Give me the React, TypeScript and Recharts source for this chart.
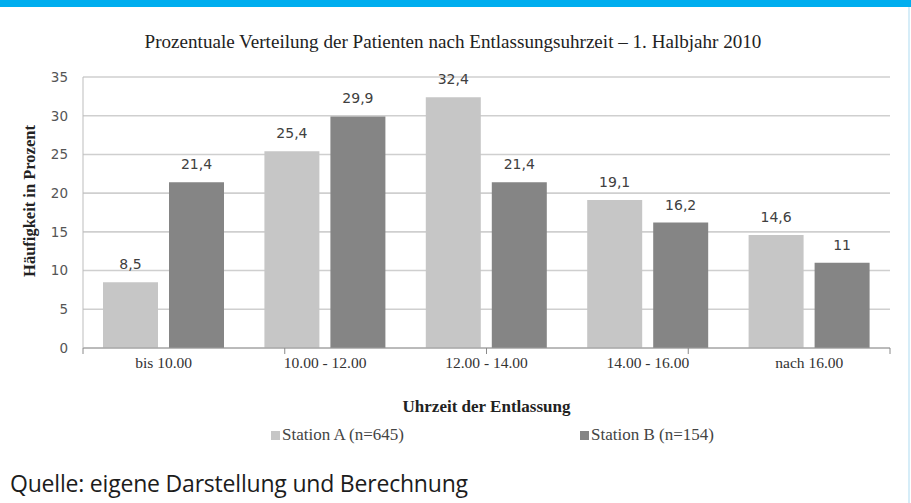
import React from 'react';
import { BarChart, Bar, XAxis, YAxis, CartesianGrid, Legend, LabelList } from 'recharts';

const categories = ['bis 10.00', '10.00 - 12.00', '12.00 - 14.00', '14.00 - 16.00', 'nach 16.00'];
const stationA = [8.5, 25.4, 32.4, 19.1, 14.6];
const stationB = [21.4, 29.9, 21.4, 16.2, 11];
const seriesNames = ['Station A (n=645)', 'Station B (n=154)'];
const yTicks = [0, 5, 10, 15, 20, 25, 30, 35];
const boundaryTicks = [0, 1, 2, 3, 4, 5];

const title = 'Prozentuale Verteilung der Patienten nach Entlassungsuhrzeit – 1. Halbjahr 2010';
const yTitle = 'Häufigkeit in Prozent';
const xTitle = 'Uhrzeit der Entlassung';
const source = 'Quelle: eigene Darstellung und Berechnung';

const data = categories.map((c, i) => ({ cat: c, a: stationA[i], b: stationB[i] }));

const COLOR_A = '#c6c6c6';
const COLOR_B = '#858585';
const SERIF = '"Liberation Serif", "Times New Roman", serif';
const SANS = '"DejaVu Sans", Verdana, sans-serif';

const fmt = (v: any) => String(v).replace('.', ',');

const legendPositions = [248, 557];

const renderLegend = (props: any) => {
  const payload = props.payload || [];
  return (
    <div style={{ position: 'relative', height: 22, width: '100%' }}>
      {payload.map((p: any, i: number) => (
        <div
          key={i}
          style={{
            position: 'absolute',
            left: legendPositions[i],
            top: 1,
            display: 'flex',
            alignItems: 'center',
            fontFamily: SERIF,
            fontSize: 17,
            color: '#444',
            whiteSpace: 'nowrap',
          }}
        >
          <span style={{ display: 'inline-block', width: 9, height: 9, background: p.color, marginRight: 2 }} />
          {p.value}
        </div>
      ))}
    </div>
  );
};

const renderYTitle = () => (
  <text
    x={29}
    y={201}
    transform="rotate(-90 29 201)"
    textAnchor="middle"
    dominantBaseline="central"
    fontFamily={SERIF}
    fontWeight="bold"
    fontSize={16.5}
    fill="#222"
  >
    {yTitle}
  </text>
);

const emptyTick = () => <g />;

export default function App() {
  return (
    <div style={{ position: 'absolute', left: 0, top: 0, width: 911, height: 503, background: '#fff', overflow: 'hidden' }}>
      <div style={{ position: 'absolute', left: 0, top: 0, width: 911, height: 7, background: '#00aeef' }} />
      <div style={{ position: 'absolute', left: 908, top: 7, width: 2, height: 496, background: '#d6edf8' }} />
      <div
        style={{
          position: 'absolute',
          left: 0,
          top: 31,
          width: 906,
          textAlign: 'center',
          fontFamily: SERIF,
          fontSize: 19.1,
          color: '#222',
          lineHeight: '22px',
        }}
      >
        {title}
      </div>
      <div style={{ position: 'absolute', left: 0, top: 0 }}>
        <BarChart
          width={911}
          height={460}
          data={data}
          margin={{ top: 77, right: 21, left: 23, bottom: 14 }}
          barCategoryGap={20}
          barGap={11}
        >
          <CartesianGrid vertical={false} stroke="#cfcfcf" strokeWidth={1.6} />
          <XAxis
            xAxisId="bounds"
            type="number"
            domain={[0, 5]}
            ticks={boundaryTicks}
            interval={0}
            height={1}
            tick={emptyTick}
            tickSize={6}
            axisLine={{ stroke: '#9a9a9a' }}
            tickLine={{ stroke: '#8a8a8a' }}
          />
          <XAxis
            xAxisId="cat"
            dataKey="cat"
            height={75}
            tickLine={false}
            axisLine={false}
            interval={0}
            tick={{ fill: '#333', fontFamily: SERIF, fontSize: 15.5 }}
            label={{
              value: xTitle,
              position: 'insideBottom',
              offset: 12,
              fontFamily: SERIF,
              fontWeight: 'bold',
              fontSize: 17,
              fill: '#222',
            }}
          />
          <YAxis
            domain={[0, 35]}
            ticks={yTicks}
            interval={0}
            width={60}
            tickLine={false}
            axisLine={{ stroke: '#bdbdbd' }}
            tickMargin={9}
            tick={{ fill: '#555', fontFamily: SANS, fontSize: 13.5 }}
            label={{ content: renderYTitle }}
          />
          <Legend verticalAlign="bottom" content={renderLegend} />
          <Bar xAxisId="cat" dataKey="a" name={seriesNames[0]} fill={COLOR_A} isAnimationActive={false}>
            <LabelList dataKey="a" position="top" offset={13} formatter={fmt} fill="#404040" fontFamily={SANS} fontSize={14} />
          </Bar>
          <Bar xAxisId="cat" dataKey="b" name={seriesNames[1]} fill={COLOR_B} isAnimationActive={false}>
            <LabelList dataKey="b" position="top" offset={13} formatter={fmt} fill="#404040" fontFamily={SANS} fontSize={14} />
          </Bar>
        </BarChart>
      </div>
      <div
        style={{
          position: 'absolute',
          left: 10,
          top: 468,
          fontFamily: '"Open Sans", "Noto Sans", sans-serif',
          fontSize: 23,
          color: '#1c1c1c',
          lineHeight: '30px',
          letterSpacing: -0.2,
        }}
      >
        {source}
      </div>
    </div>
  );
}
